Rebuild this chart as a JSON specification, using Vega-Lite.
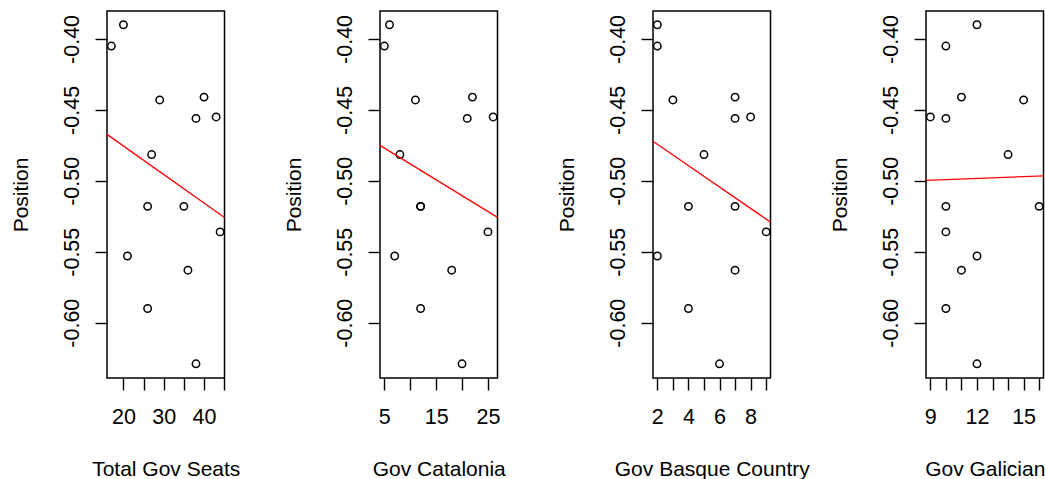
{
  "$schema": "https://vega.github.io/schema/vega-lite/v6.json",
  "background": "white",
  "padding": {"left": 9, "top": 10, "right": 0, "bottom": 0},
  "bounds": "flush",
  "spacing": 155,
  "data": {"values": [
    {"total": 20, "catalonia": 6, "basque": 2, "galician": 12, "position": -0.390},
    {"total": 17, "catalonia": 5, "basque": 2, "galician": 10, "position": -0.405},
    {"total": 40, "catalonia": 22, "basque": 7, "galician": 11, "position": -0.441},
    {"total": 29, "catalonia": 11, "basque": 3, "galician": 15, "position": -0.443},
    {"total": 43, "catalonia": 26, "basque": 8, "galician": 9, "position": -0.455},
    {"total": 38, "catalonia": 21, "basque": 7, "galician": 10, "position": -0.456},
    {"total": 27, "catalonia": 8, "basque": 5, "galician": 14, "position": -0.4815},
    {"total": 26, "catalonia": 12, "basque": 4, "galician": 10, "position": -0.518},
    {"total": 35, "catalonia": 12, "basque": 7, "galician": 16, "position": -0.518},
    {"total": 44, "catalonia": 25, "basque": 9, "galician": 10, "position": -0.536},
    {"total": 21, "catalonia": 7, "basque": 2, "galician": 12, "position": -0.553},
    {"total": 36, "catalonia": 18, "basque": 7, "galician": 11, "position": -0.563},
    {"total": 26, "catalonia": 12, "basque": 4, "galician": 10, "position": -0.590},
    {"total": 38, "catalonia": 20, "basque": 6, "galician": 12, "position": -0.629}
  ]},
  "hconcat": [
    {
      "width": 117.5, "height": 367,
      "layer": [
        {"mark": {"type": "point", "shape": "circle", "filled": false, "color": "black", "size": 55, "strokeWidth": 1.5, "opacity": 1},
         "encoding": {
           "x": {"field": "total", "type": "quantitative", "scale": {"domain": [15.92, 45.08], "nice": false, "zero": false},
                 "axis": {"title": "Total Gov Seats", "values": [20, 25, 30, 35, 40, 45], "labelExpr": "indexof([20,30,40], datum.value) >= 0 ? format(datum.value, 'd') : ''"}},
           "y": {"field": "position", "type": "quantitative", "scale": {"domain": [-0.639, -0.3803], "nice": false, "zero": false},
                 "axis": {"title": "Position", "values": [-0.6, -0.55, -0.5, -0.45, -0.4], "labelExpr": "'-' + format(abs(datum.value), '.2f')"}}
         }},
        {"transform": [{"regression": "position", "on": "total", "extent": [15.92, 45.08]}],
         "mark": {"type": "line", "color": "red", "strokeWidth": 1.3},
         "encoding": {"x": {"field": "total", "type": "quantitative"}, "y": {"field": "position", "type": "quantitative"}}}
      ]
    },
    {
      "width": 117.5, "height": 367,
      "layer": [
        {"mark": {"type": "point", "shape": "circle", "filled": false, "color": "black", "size": 55, "strokeWidth": 1.5, "opacity": 1},
         "encoding": {
           "x": {"field": "catalonia", "type": "quantitative", "scale": {"domain": [4.16, 26.84], "nice": false, "zero": false},
                 "axis": {"title": "Gov Catalonia", "values": [5, 10, 15, 20, 25], "labelExpr": "indexof([5,15,25], datum.value) >= 0 ? format(datum.value, 'd') : ''"}},
           "y": {"field": "position", "type": "quantitative", "scale": {"domain": [-0.639, -0.3803], "nice": false, "zero": false},
                 "axis": {"title": "Position", "values": [-0.6, -0.55, -0.5, -0.45, -0.4], "labelExpr": "'-' + format(abs(datum.value), '.2f')"}}
         }},
        {"transform": [{"regression": "position", "on": "catalonia", "extent": [4.16, 26.84]}],
         "mark": {"type": "line", "color": "red", "strokeWidth": 1.3},
         "encoding": {"x": {"field": "catalonia", "type": "quantitative"}, "y": {"field": "position", "type": "quantitative"}}}
      ]
    },
    {
      "width": 117.5, "height": 367,
      "layer": [
        {"mark": {"type": "point", "shape": "circle", "filled": false, "color": "black", "size": 55, "strokeWidth": 1.5, "opacity": 1},
         "encoding": {
           "x": {"field": "basque", "type": "quantitative", "scale": {"domain": [1.72, 9.28], "nice": false, "zero": false},
                 "axis": {"title": "Gov Basque Country", "values": [2, 3, 4, 5, 6, 7, 8, 9], "labelExpr": "indexof([2,4,6,8], datum.value) >= 0 ? format(datum.value, 'd') : ''"}},
           "y": {"field": "position", "type": "quantitative", "scale": {"domain": [-0.639, -0.3803], "nice": false, "zero": false},
                 "axis": {"title": "Position", "values": [-0.6, -0.55, -0.5, -0.45, -0.4], "labelExpr": "'-' + format(abs(datum.value), '.2f')"}}
         }},
        {"transform": [{"regression": "position", "on": "basque", "extent": [1.72, 9.28]}],
         "mark": {"type": "line", "color": "red", "strokeWidth": 1.3},
         "encoding": {"x": {"field": "basque", "type": "quantitative"}, "y": {"field": "position", "type": "quantitative"}}}
      ]
    },
    {
      "width": 117.5, "height": 367,
      "layer": [
        {"mark": {"type": "point", "shape": "circle", "filled": false, "color": "black", "size": 55, "strokeWidth": 1.5, "opacity": 1},
         "encoding": {
           "x": {"field": "galician", "type": "quantitative", "scale": {"domain": [8.72, 16.28], "nice": false, "zero": false},
                 "axis": {"title": "Gov Galician", "values": [9, 10, 11, 12, 13, 14, 15, 16], "labelExpr": "indexof([9,12,15], datum.value) >= 0 ? format(datum.value, 'd') : ''"}},
           "y": {"field": "position", "type": "quantitative", "scale": {"domain": [-0.639, -0.3803], "nice": false, "zero": false},
                 "axis": {"title": "Position", "values": [-0.6, -0.55, -0.5, -0.45, -0.4], "labelExpr": "'-' + format(abs(datum.value), '.2f')"}}
         }},
        {"transform": [{"regression": "position", "on": "galician", "extent": [8.72, 16.28]}],
         "mark": {"type": "line", "color": "red", "strokeWidth": 1.3},
         "encoding": {"x": {"field": "galician", "type": "quantitative"}, "y": {"field": "position", "type": "quantitative"}}}
      ]
    }
  ],
  "config": {
    "view": {"stroke": "black", "strokeWidth": 1.5},
    "axis": {
      "domain": false, "grid": false, "labelOverlap": false, "labelFlush": false, "labelBound": false, "tickCount": 50,
      "tickColor": "black", "tickSize": 12, "tickWidth": 1.4,
      "labelFont": "Liberation Sans", "labelFontSize": 21.5, "labelColor": "black",
      "titleFont": "Liberation Sans", "titleFontSize": 21, "titleFontWeight": "normal", "titleColor": "black"
    },
    "axisX": {
      "labelBaseline": "alphabetic", "labelPadding": 33, "labelAngle": 0,
      "titleBaseline": "alphabetic", "titleY": 97, "titleAlign": "center"
    },
    "axisY": {
      "labelAngle": 270, "labelAlign": "center", "labelBaseline": "alphabetic", "labelPadding": 17,
      "titleAngle": 270, "titleBaseline": "alphabetic", "titleAlign": "center", "titleX": -80, "titleY": 183.5
    }
  }
}
